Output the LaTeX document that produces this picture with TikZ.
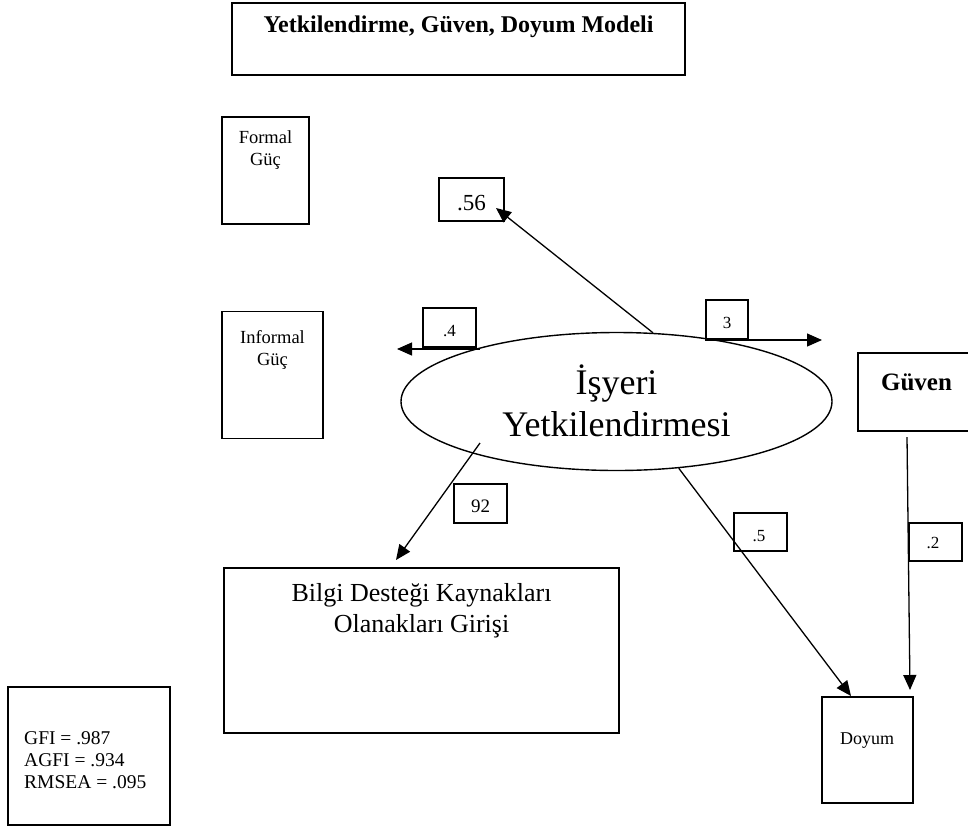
\documentclass[tikz,border=0pt]{standalone}
\usepackage{fontspec}
\setmainfont{Liberation Serif}
\usetikzlibrary{arrows.meta,shapes.geometric}
\newcommand\setfs[1]{\fontsize{#1}{#1}\selectfont}
\tikzset{
  box/.style={draw, line width=1.6pt, inner sep=0pt},
  conn/.style={line width=1.3pt, -{Triangle[length=15pt,width=13pt]}},
  lab/.style={anchor=base, inner sep=0pt},
  small/.style={font=\setfs{17}},
}
\begin{document}
\begin{tikzpicture}[x=1pt,y=-1pt]
\useasboundingbox (0,0) rectangle (968,828);

% title
\node[box, line width=2.6pt, minimum width=453pt, minimum height=72pt] (titlebox) at (458.5,39) {};
\node[lab, font=\bfseries\setfs{24}] (title) at (458.5,32) {Yetkilendirme, Güven, Doyum Modeli};

% observed variables
\node[box, minimum width=87pt, minimum height=107pt] (formal) at (265.5,170.5) {};
\node[lab, font=\setfs{18.5}] (formal1) at (265.5,143) {Formal};
\node[lab, font=\setfs{18.5}] (formal2) at (265.5,165) {Güç};

\node[box, minimum width=101pt, minimum height=127pt] (informal) at (272.5,375) {};
\node[lab, font=\setfs{18.5}] (informal1) at (272.5,343) {Informal};
\node[lab, font=\setfs{18.5}] (informal2) at (272.5,365) {Güç};

\node[box, minimum width=117pt, minimum height=78pt] (guven) at (916.5,392) {};
\node[lab, font=\bfseries\setfs{25}] (guventxt) at (916.5,390) {Güven};

\node[box, minimum width=395pt, minimum height=165pt] (bilgi) at (421.5,650.5) {};
\node[lab, font=\setfs{26}] (bilgi1) at (421.5,601) {Bilgi Desteği Kaynakları};
\node[lab, font=\setfs{26}] (bilgi2) at (421.5,632) {Olanakları Girişi};

\node[box, minimum width=91pt, minimum height=106pt] (doyum) at (867.5,750) {};
\node[lab, font=\setfs{18}] (doyumtxt) at (867,744) {Doyum};

% latent variable
\node[draw, ellipse, line width=1.4pt, minimum width=431pt, minimum height=138pt, inner sep=0pt] (ell) at (616.5,401.5) {};
\node[lab, font=\setfs{36}] (ell1) at (616.5,394) {İşyeri};
\node[lab, font=\setfs{36}] (ell2) at (616.5,436) {Yetkilendirmesi};

% fit indices
\node[box, minimum width=162pt, minimum height=138pt] (fit) at (89,756) {};
\node[anchor=base west, inner sep=0pt, font=\setfs{19.5}] (gfi) at (24,744) {GFI = .987};
\node[anchor=base west, inner sep=0pt, font=\setfs{19.5}] (agfi) at (24,766) {AGFI = .934};
\node[anchor=base west, inner sep=0pt, font=\setfs{19.5}] (rmsea) at (24,788) {RMSEA = .095};

% path coefficients
\node[box, minimum width=65pt, minimum height=43pt] (b56) at (471.5,199.5) {};
\node[lab, font=\setfs{23}] (l56) at (471.5,210) {.56};
\node[box, minimum width=53pt, minimum height=39pt] (b4) at (449.5,327.5) {};
\node[lab, small] (l4) at (449.5,336) {.4};
\node[box, minimum width=42pt, minimum height=39pt] (b3) at (727,319.5) {};
\node[lab, small] (l3) at (727,328) {3};
\node[box, minimum width=53pt, minimum height=39pt] (b92) at (480.5,503.5) {};
\node[lab, font=\setfs{19}] (l92) at (480.5,512) {92};
\node[box, minimum width=53pt, minimum height=38pt] (b5) at (760.5,532) {};
\node[lab, small] (l5) at (759,541) {.5};
\node[box, minimum width=53pt, minimum height=38pt] (b2) at (935.5,542) {};
\node[lab, small] (l2) at (933,548) {.2};

% connector ends
\coordinate (t56) at (496,208);
\coordinate (s4) at (480,349);
\coordinate (t4) at (397,349);
\coordinate (s3) at (705,340);
\coordinate (t3) at (822,340);
\coordinate (s92) at (480,443);
\coordinate (t92) at (396,560);
\coordinate (t5) at (851,696);
\coordinate (s2) at (907,437);
\coordinate (t2) at (910,690);

\draw[conn] (ell.62) -- (t56);
\draw[conn] (s4) -- (t4);
\draw[conn] (s3) -- (t3);
\draw[conn] (s92) -- (t92);
\draw[conn] (ell.-47) -- (t5);
\draw[conn] (s2) -- (t2);
\end{tikzpicture}
\end{document}
